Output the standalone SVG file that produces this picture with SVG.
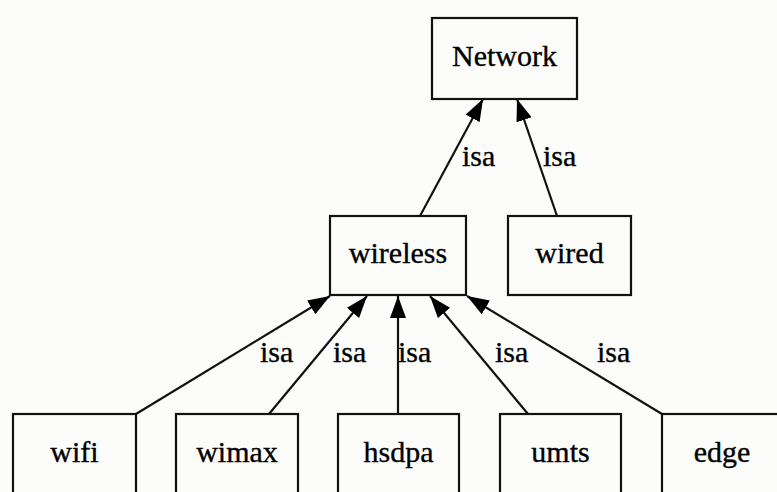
<svg xmlns="http://www.w3.org/2000/svg" width="777" height="492" viewBox="0 0 777 492">
<style>
.bg{fill:#fcfdfb}
.box{fill:none;stroke:#111;stroke-width:2.2}
.lbl{font-family:"Liberation Serif","Times New Roman",serif;font-size:30px;fill:#000;stroke:#000;stroke-width:0.35}
.node text{text-anchor:middle}
.edge{stroke:#111;stroke-width:2.2;fill:none;marker-end:url(#arr)}
</style>
<defs>
<marker id="arr" markerUnits="userSpaceOnUse" markerWidth="23" markerHeight="16" refX="22" refY="8" orient="auto" viewBox="0 0 23 16">
<path d="M0,0 L22,8 L0,16 z" fill="#000"/>
</marker>
</defs>
<rect class="bg" x="0" y="0" width="777" height="492"/>
<g id="connectors">
<line class="edge" x1="420" y1="216" x2="483" y2="99"/>
<line class="edge" x1="557" y1="216" x2="517" y2="99"/>
<line class="edge" x1="136" y1="414" x2="330" y2="296"/>
<line class="edge" x1="269" y1="414" x2="367" y2="296"/>
<line class="edge" x1="398" y1="414" x2="398" y2="296"/>
<line class="edge" x1="528" y1="414" x2="430" y2="296"/>
<line class="edge" x1="662" y1="414" x2="467" y2="296"/>
<text class="lbl" x="462" y="166">isa</text>
<text class="lbl" x="543" y="166">isa</text>
<text class="lbl" x="260" y="362">isa</text>
<text class="lbl" x="333" y="362">isa</text>
<text class="lbl" x="398" y="362">isa</text>
<text class="lbl" x="495" y="362">isa</text>
<text class="lbl" x="597" y="362">isa</text>
</g>
<g id="Network" class="node"><rect class="box" x="432" y="18" width="145" height="81"/><text class="lbl" x="504.5" y="66">Network</text></g>
<g id="wireless" class="node"><rect class="box" x="330" y="216" width="136" height="79"/><text class="lbl" x="398" y="263">wireless</text></g>
<g id="wired" class="node"><rect class="box" x="508" y="216" width="123" height="79"/><text class="lbl" x="569.5" y="263">wired</text></g>
<g id="wifi" class="node"><rect class="box" x="13" y="414" width="123" height="80"/><text class="lbl" x="74.5" y="462">wifi</text></g>
<g id="wimax" class="node"><rect class="box" x="176" y="414" width="122" height="80"/><text class="lbl" x="237" y="462">wimax</text></g>
<g id="hsdpa" class="node"><rect class="box" x="338" y="414" width="121" height="80"/><text class="lbl" x="398.5" y="462">hsdpa</text></g>
<g id="umts" class="node"><rect class="box" x="500" y="414" width="121" height="80"/><text class="lbl" x="560.5" y="462">umts</text></g>
<g id="edge" class="node"><rect class="box" x="662" y="414" width="122" height="80"/><text class="lbl" x="722" y="462">edge</text></g>
</svg>
